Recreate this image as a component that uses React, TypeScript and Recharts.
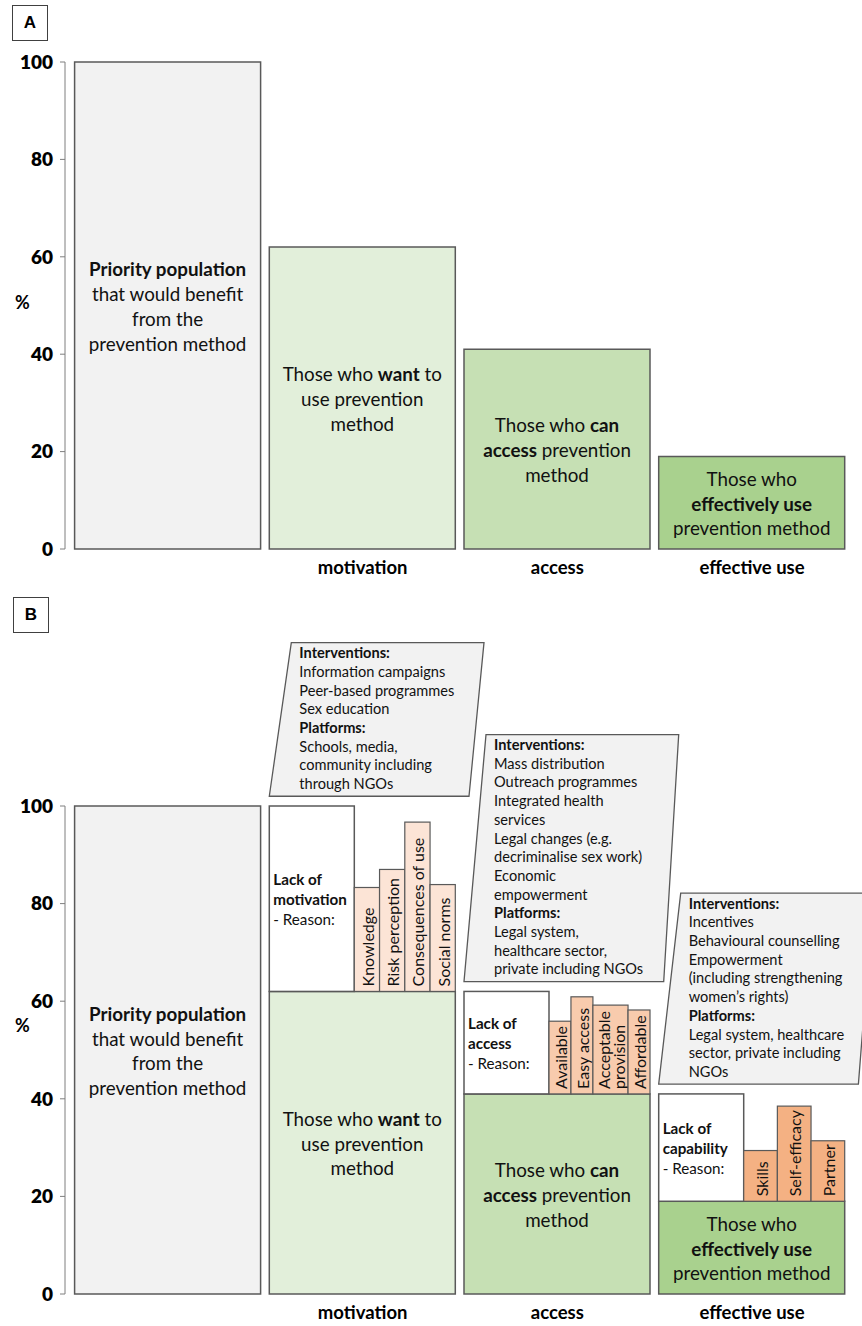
import React from 'react';
import { BarChart, Bar, XAxis, YAxis, ReferenceArea, Rectangle } from 'recharts';

// stages of the prevention cascade
const stages = ['', 'motivation', 'access', 'effective use'];
const reachedPct = [100, 62, 41, 19];
const yTicks = [0, 20, 40, 60, 80, 100];

const stageText = [
  ['*Priority population*', 'that would benefit', 'from the', 'prevention method'],
  ['Those who *want* to', 'use prevention', 'method'],
  ['Those who *can*', '*access* prevention', 'method'],
  ['Those who', '*effectively use*', 'prevention method'],
];

const lackText = [
  [],
  ['*Lack of*', '*motivation*', '- Reason:'],
  ['*Lack of*', '*access*', '- Reason:'],
  ['*Lack of*', '*capability*', '- Reason:'],
];

// "|" splits a reason label over two lines
const reasonNames = [
  [],
  ['Knowledge', 'Risk perception', 'Consequences of use', 'Social norms'],
  ['Available', 'Easy access', 'Acceptable|provision', 'Affordable'],
  ['Skills', 'Self-efficacy', 'Partner'],
];
const reasonPct = [
  [],
  [83.3, 87, 96.7, 83.9],
  [55.9, 60.9, 59.2, 58.2],
  [29.4, 38.5, 31.4],
];

const calloutText = [
  [],
  ['*Interventions:*', 'Information campaigns', 'Peer-based programmes', 'Sex education', '*Platforms:*', 'Schools, media,', 'community including', 'through NGOs'],
  ['*Interventions:*', 'Mass distribution', 'Outreach programmes', 'Integrated health', 'services', 'Legal changes (e.g.', 'decriminalise sex work)', 'Economic', 'empowerment', '*Platforms:*', 'Legal system,', 'healthcare sector,', 'private including NGOs'],
  ['*Interventions:*', 'Incentives', 'Behavioural counselling', 'Empowerment', '(including strengthening', 'women\u2019s rights)', '*Platforms:*', 'Legal system, healthcare', 'sector, private including', 'NGOs'],
];

const stageFill = ['#f2f2f2', '#e2efda', '#c6e0b4', '#a9d18e'];
const reasonFill = ['none', '#fce4d6', '#f8cbad', '#f4b183'];
const EDGE = '#595959';
const FONT = 'Lato, "Open Sans", sans-serif';

const dataA = stages.map((stage, idx) => ({ stage, idx, reached: reachedPct[idx] }));
const dataB = stages.map((stage, idx) => ({
  stage,
  idx,
  reached: reachedPct[idx],
  prev: idx === 0 ? 100 : reachedPct[idx - 1],
  lack: idx === 0 ? 0 : reachedPct[idx - 1] - reachedPct[idx],
}));

const rich = (line: string) =>
  line.split('*').map((part, k) =>
    part ? (
      <tspan key={k} fontWeight={k % 2 ? 700 : 400}>
        {part}
      </tspan>
    ) : null
  );

const StageBar = (props: any) => {
  const { x, y, width, height, payload } = props;
  const i = payload.idx;
  const lines = stageText[i];
  const lh = 24.7;
  const cy = y + height / 2;
  return (
    <g>
      <Rectangle x={x} y={y} width={width} height={height} fill={stageFill[i]} stroke={EDGE} strokeWidth={1.5} />
      {lines.map((l, k) => (
        <text
          key={k}
          x={x + width / 2}
          y={cy + (k - (lines.length - 1) / 2) * lh}
          textAnchor="middle"
          dominantBaseline="central"
          fontSize={18.8}
          fill="#111"
          style={{ whiteSpace: 'pre' }}
        >
          {rich(l)}
        </text>
      ))}
    </g>
  );
};

const LackBar = (props: any) => {
  const { x, y, width, height, payload } = props;
  const i = payload.idx;
  if (!payload.lack || !height) return null;
  const pxPerPct = height / payload.lack;
  const baseY = y + height;
  const boxW = width * 0.457;
  const names = reasonNames[i];
  const weights = names.map((n) => (n.includes('|') ? 1.6 : 1));
  const total = weights.reduce((a, b) => a + b, 0);
  const restW = width - boxW;
  let cursor = x + boxW;
  const lines = lackText[i];
  const cy = y + height / 2;
  return (
    <g>
      <rect x={x} y={y} width={boxW} height={height} fill="#fff" stroke={EDGE} strokeWidth={1.5} />
      {lines.map((l, k) => (
        <text
          key={k}
          x={x + 4}
          y={cy + (k - (lines.length - 1) / 2) * 20}
          dominantBaseline="central"
          fontSize={15.2}
          fill="#111"
          style={{ whiteSpace: 'pre' }}
        >
          {rich(l)}
        </text>
      ))}
      {names.map((n, k) => {
        const w = (restW * weights[k]) / total;
        const left = cursor;
        cursor += w;
        const top = baseY - (reasonPct[i][k] - payload.reached) * pxPerPct;
        const parts = n.split('|');
        return (
          <g key={n}>
            <rect x={left} y={top} width={w} height={baseY - top} fill={reasonFill[i]} stroke={EDGE} strokeWidth={1.2} />
            <text
              transform={`translate(${left + w / 2}, ${baseY - 5}) rotate(-90)`}
              fontSize={16}
              fill="#111"
              dominantBaseline="central"
            >
              {parts.map((p, j) => (
                <tspan key={j} x={0} dy={j === 0 ? -(parts.length - 1) * 7.5 : 15}>
                  {p}
                </tspan>
              ))}
            </text>
          </g>
        );
      })}
    </g>
  );
};

const Callout = (props: any) => {
  const { x, y, width, lines } = props;
  const lh = 18.7;
  const h = lines.length * lh + 4;
  const bottom = y;
  const top = y - h;
  const pts = [
    [x + 26, top],
    [x + width + 24, top],
    [x + width + 9, bottom],
    [x + 4, bottom],
  ]
    .map((p) => p.join(','))
    .join(' ');
  return (
    <g>
      <polygon points={pts} fill="#f2f2f2" stroke={EDGE} strokeWidth={1.3} />
      {lines.map((l: string, k: number) => (
        <text key={k} x={x + 34} y={top + 15.5 + k * lh} fontSize={14.6} fill="#111" style={{ whiteSpace: 'pre' }}>
          {rich(l)}
        </text>
      ))}
    </g>
  );
};

const yTick = (p: any) => (
  <text x={p.x} y={p.y} dy="0.36em" textAnchor="end" fontSize={19} fontWeight={800} fill="#000">
    {p.payload.value}
  </text>
);

const xTick = (p: any) => (
  <text x={p.x} y={p.y} dy={25} textAnchor="middle" fontSize={18.5} fontWeight={700} fill="#000">
    {p.payload.value}
  </text>
);

const PanelTag = ({ label, top, left }: { label: string; top: number; left: number }) => (
  <div
    style={{
      position: 'absolute',
      left,
      top,
      width: 36,
      height: 36,
      border: '1.5px solid #404040',
      boxSizing: 'border-box',
      display: 'flex',
      alignItems: 'center',
      justifyContent: 'center',
      fontFamily: 'Arial, "Liberation Sans", sans-serif',
      fontWeight: 700,
      fontSize: 17,
    }}
  >
    {label}
  </div>
);

const axisProps = {
  domain: [0, 100] as [number, number],
  ticks: yTicks,
  width: 65,
  tickSize: 5,
  tickMargin: 7,
  stroke: '#7f7f7f',
  tick: yTick,
  interval: 0 as const,
};

const App = () => (
  <div style={{ position: 'absolute', left: 0, top: 0, width: 862, height: 1326, background: '#fff', fontFamily: FONT }}>
    <PanelTag label="A" left={12} top={5} />
    <div style={{ position: 'absolute', left: 0, top: 0 }}>
      <BarChart width={862} height={600} data={dataA} margin={{ top: 62, right: 10, bottom: 21, left: 0 }} style={{ fontFamily: FONT }}>
        <XAxis dataKey="stage" axisLine={false} tickLine={false} tickSize={0} tickMargin={0} height={30} padding={{ left: 5.6, right: 2.6 }} tick={xTick} interval={0} />
        <YAxis {...axisProps} label={{ value: '%', position: 'insideLeft', offset: 15, dy: -3, fontSize: 18, fontWeight: 700, fill: '#000' }} />
        <Bar dataKey="reached" barSize={186} shape={StageBar} isAnimationActive={false} />
      </BarChart>
    </div>
    <PanelTag label="B" left={13} top={597} />
    <div style={{ position: 'absolute', left: 0, top: 600 }}>
      <BarChart width={862} height={726} data={dataB} margin={{ top: 206, right: 10, bottom: 2, left: 0 }} style={{ fontFamily: FONT }}>
        <XAxis dataKey="stage" axisLine={false} tickLine={false} tickSize={0} tickMargin={0} height={30} padding={{ left: 5.6, right: 2.6 }} tick={xTick} interval={0} />
        <YAxis {...axisProps} label={{ value: '%', position: 'insideLeft', offset: 15, dy: -24, fontSize: 18, fontWeight: 700, fill: '#000' }} />
        <Bar dataKey="reached" stackId="s" barSize={186} shape={StageBar} isAnimationActive={false} />
        <Bar dataKey="lack" stackId="s" barSize={186} shape={LackBar} isAnimationActive={false} />
        {dataB.slice(1).map((d) => (
          <ReferenceArea
            key={d.stage}
            x1={d.stage}
            x2={d.stage}
            y1={d.prev}
            y2={d.prev + 2}
            ifOverflow="visible"
            shape={(p: any) => <Callout {...p} lines={calloutText[d.idx]} />}
          />
        ))}
      </BarChart>
    </div>
  </div>
);

export default App;
